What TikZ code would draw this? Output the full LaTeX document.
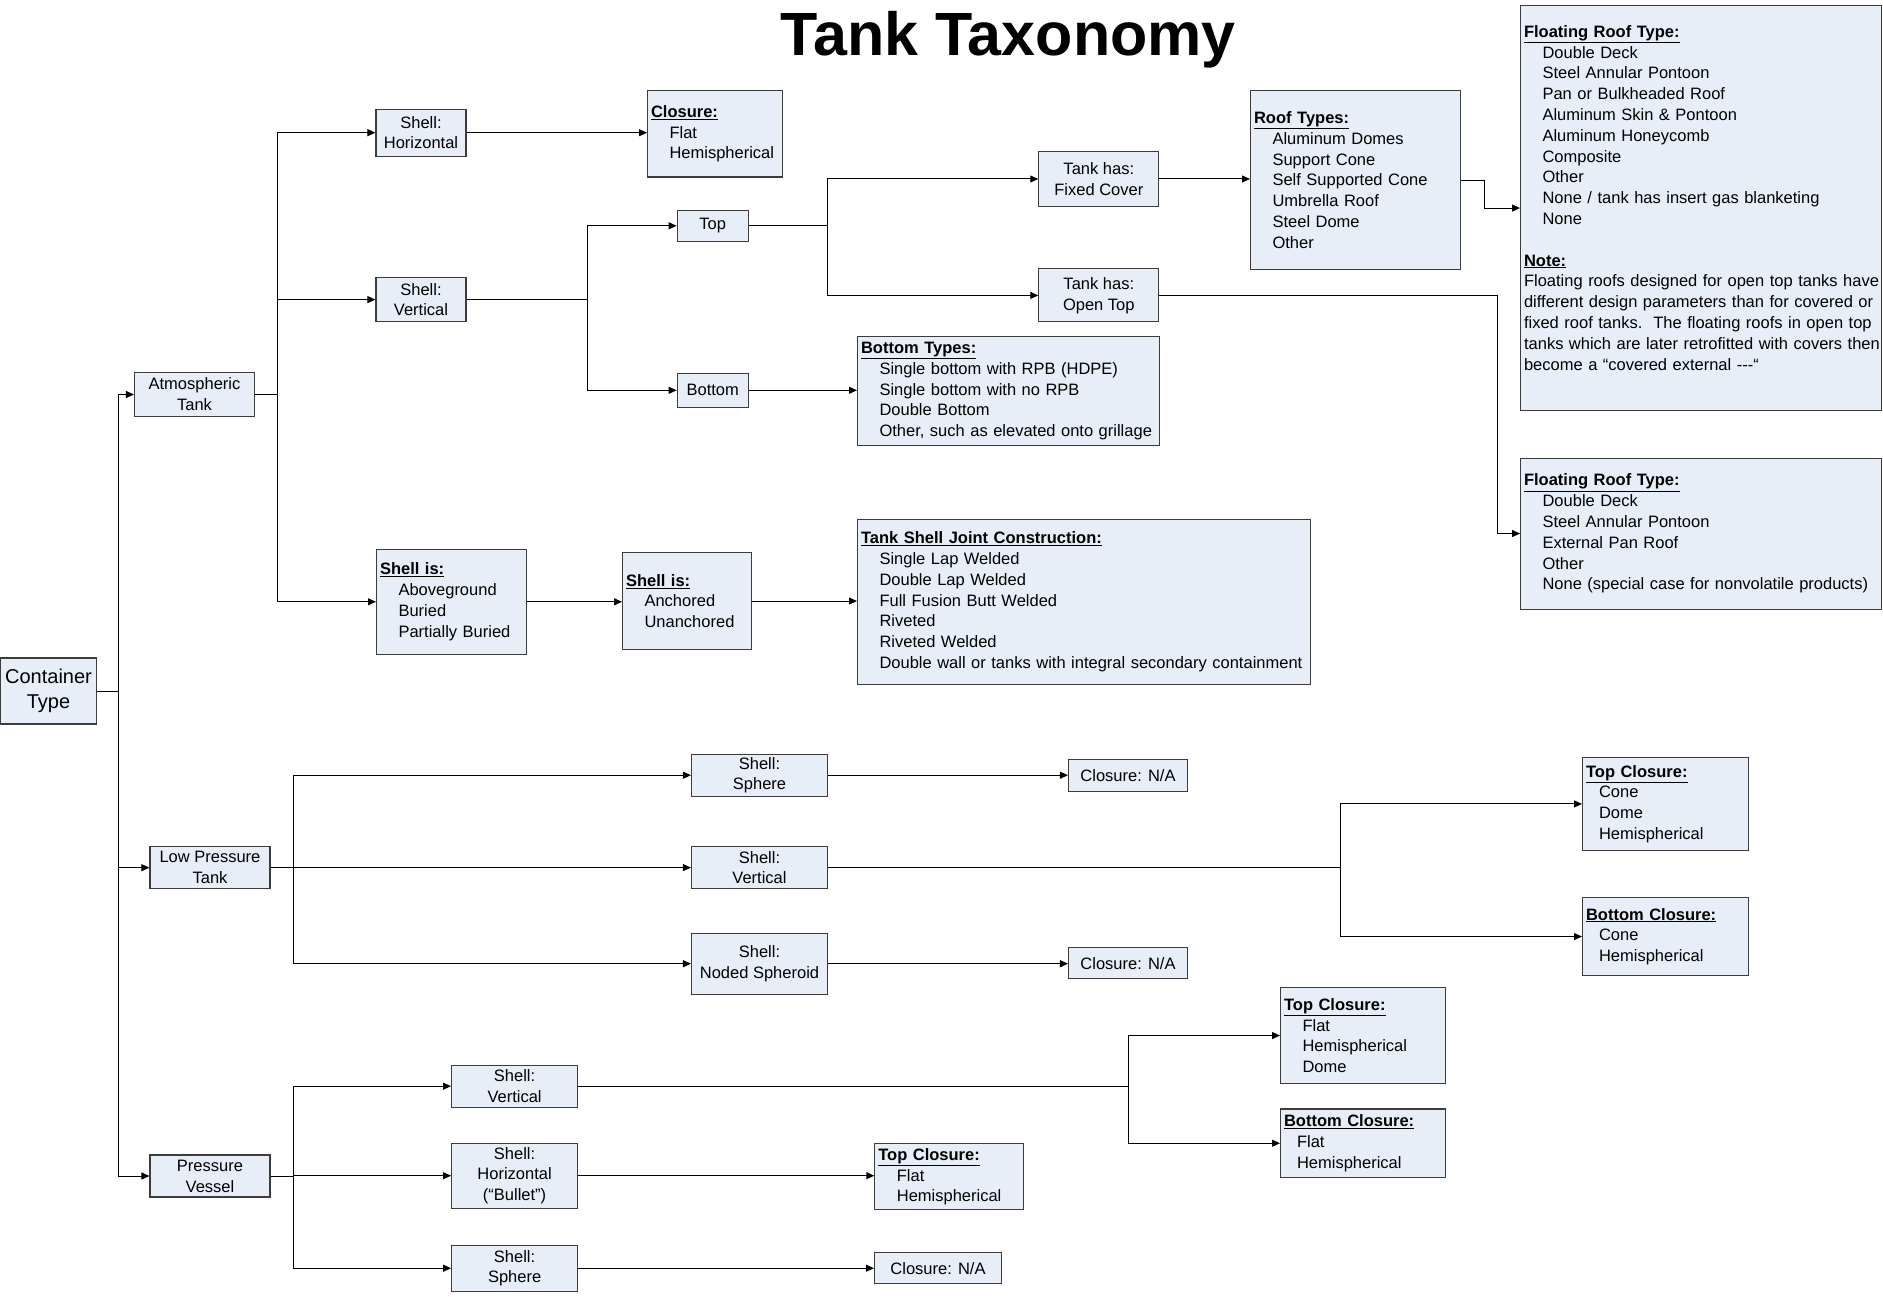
\documentclass[tikz,border=0pt]{standalone}
\usepackage{fontspec}
\setmainfont{Liberation Sans}
\usetikzlibrary{arrows.meta,positioning,calc}
\definecolor{boxfill}{RGB}{232,238,248}
\definecolor{boxline}{RGB}{60,60,60}
\newcommand{\boxhead}[1]{\mbox{\textbf{\underline{#1}}}}
\newcommand{\boxitem}[2][18.5pt]{\hspace*{#1}\mbox{#2}}

\begin{document}
\begin{tikzpicture}[
  x=1pt,y=-1pt,
  box/.style={draw=boxline,fill=boxfill,line width=1.1pt,align=center,inner sep=2pt,
    font=\fontsize{16.5}{20.8}\selectfont},
  listbox/.style={box,anchor=north west,align=left,inner xsep=3.5pt},
  arr/.style={-{Triangle[length=8pt,width=7pt]},line width=1pt,draw=black}
]
\useasboundingbox (0,0) rectangle (1883,1297);
\node[font=\fontsize{61}{72}\selectfont\bfseries,anchor=base] (title) at (1008,56) {Tank Taxonomy};

% level 0 and 1
\node[box,minimum width=96pt,minimum height=66pt,font=\fontsize{20}{25}\selectfont] (ctype) at (48.5,691) {Container\\Type};
\node[box,minimum width=120pt,minimum height=44pt] (atm) at (194.5,394.5) {Atmospheric\\Tank};
\node[box,minimum width=120pt,minimum height=42pt] (lpt) at (210,867.7) {Low Pressure\\Tank};
\node[box,minimum width=120pt,minimum height=42pt] (pv) at (210,1176) {Pressure\\Vessel};

% atmospheric tank
\node[box,minimum width=90pt,minimum height=47pt] (shhor) at (421,132.7) {Shell:\\Horizontal};
\node[listbox,text width=128pt,minimum height=86.5pt] (clos) at (647,90)
  {\boxhead{Closure:}\\\boxitem{Flat}\\\boxitem{Hemispherical}};
\node[box,minimum width=90pt,minimum height=44pt] (shver) at (421,299.6) {Shell:\\Vertical};
\node[box,minimum width=71pt,minimum height=31pt] (top) at (712.7,225.8) {Top};
\node[box,minimum width=71pt,minimum height=34pt] (bot) at (712.7,390.3) {Bottom};
\node[box,minimum width=120pt,minimum height=55pt] (fixed) at (1098.8,179) {Tank has:\\Fixed Cover};
\node[box,minimum width=120pt,minimum height=53pt] (open) at (1098.8,295.4) {Tank has:\\Open Top};
\node[listbox,text width=203pt,minimum height=179pt] (roof) at (1250,90)
  {\boxhead{Roof Types:}\\\boxitem{Aluminum Domes}\\\boxitem{Support Cone}\\
   \boxitem{Self Supported Cone}\\\boxitem{Umbrella Roof}\\\boxitem{Steel Dome}\\\boxitem{Other}};
\node[listbox,text width=354pt,minimum height=405pt] (float) at (1520,5)
  {\boxhead{Floating Roof Type:}\\\boxitem{Double Deck}\\\boxitem{Steel Annular Pontoon}\\
   \boxitem{Pan or Bulkheaded Roof}\\\boxitem{Aluminum Skin \& Pontoon}\\\boxitem{Aluminum Honeycomb}\\
   \boxitem{Composite}\\\boxitem{Other}\\\boxitem{None / tank has insert gas blanketing}\\\boxitem{None}\\[20.8pt]
   \boxhead{Note:}\\
   \mbox{Floating roofs designed for open top tanks have}\\
   \mbox{different design parameters than for covered or}\\
   \mbox{fixed roof tanks.\ \ The floating roofs in open top}\\
   \mbox{tanks which are later retrofitted with covers then}\\
   \mbox{become a “covered external -{}-{}-“}\\ \mbox{}};
\node[listbox,text width=354pt,minimum height=151pt] (floatb) at (1520,457.5)
  {\boxhead{Floating Roof Type:}\\\boxitem{Double Deck}\\\boxitem{Steel Annular Pontoon}\\
   \boxitem{External Pan Roof}\\\boxitem{Other}\\\boxitem{None (special case for nonvolatile products)}};
\node[listbox,text width=294.5pt,minimum height=109pt] (bottypes) at (857,336)
  {\boxhead{Bottom Types:}\\\boxitem{Single bottom with RPB (HDPE)}\\\boxitem{Single bottom with no RPB}\\
   \boxitem{Double Bottom}\\\boxitem{Other, such as elevated onto grillage}};
\node[listbox,text width=143pt,minimum height=104.5pt] (shellis) at (376,549)
  {\boxhead{Shell is:}\\\boxitem{Aboveground}\\\boxitem{Buried}\\\boxitem{Partially Buried}};
\node[listbox,text width=121.6pt,minimum height=97pt] (anch) at (622,552)
  {\boxhead{Shell is:}\\\boxitem{Anchored}\\\boxitem{Unanchored}};
\node[listbox,text width=446pt,minimum height=164.5pt] (joint) at (857,519)
  {\boxhead{Tank Shell Joint Construction:}\\\boxitem{Single Lap Welded}\\\boxitem{Double Lap Welded}\\
   \boxitem{Full Fusion Butt Welded}\\\boxitem{Riveted}\\\boxitem{Riveted Welded}\\
   \boxitem{Double wall or tanks with integral secondary containment}};

% low pressure tank
\node[box,minimum width=136pt,minimum height=42pt] (lpsph) at (759.5,775.2) {Shell:\\Sphere};
\node[box,minimum width=119pt,minimum height=32pt] (lpna) at (1128,775.2) {Closure: N/A};
\node[box,minimum width=136pt,minimum height=42pt] (lpver) at (759.5,867.6) {Shell:\\Vertical};
\node[listbox,text width=158.7pt,minimum height=93.6pt] (lptop) at (1582,756.6)
  {\boxhead{Top Closure:}\\\boxitem[13pt]{Cone}\\\boxitem[13pt]{Dome}\\\boxitem[13pt]{Hemispherical}};
\node[listbox,text width=158.7pt,minimum height=78pt] (lpbot) at (1582,897)
  {\boxhead{Bottom Closure:}\\\boxitem[13pt]{Cone}\\\boxitem[13pt]{Hemispherical}};
\node[box,minimum width=136pt,minimum height=61pt] (lpnod) at (759.5,963.7) {Shell:\\Noded Spheroid};
\node[box,minimum width=119pt,minimum height=31pt] (lpna2) at (1128,963.1) {Closure: N/A};

% pressure vessel
\node[box,minimum width=126pt,minimum height=42pt] (pvver) at (514.6,1086.2) {Shell:\\Vertical};
\node[listbox,text width=157.5pt,minimum height=96pt] (pvtop) at (1280,987)
  {\boxhead{Top Closure:}\\\boxitem{Flat}\\\boxitem{Hemispherical}\\\boxitem{Dome}};
\node[listbox,text width=157.5pt,minimum height=68.5pt] (pvbot) at (1280,1108.4)
  {\boxhead{Bottom Closure:}\\\boxitem[13pt]{Flat}\\\boxitem[13pt]{Hemispherical}};
\node[box,minimum width=126pt,minimum height=65pt] (pvbul) at (514.6,1175.7) {Shell:\\Horizontal\\(“Bullet”)};
\node[listbox,text width=142pt,minimum height=66pt] (pvtop2) at (874.3,1143.3)
  {\boxhead{Top Closure:}\\\boxitem{Flat}\\\boxitem{Hemispherical}};
\node[box,minimum width=126pt,minimum height=45.7pt] (pvsph) at (514.6,1268.2) {Shell:\\Sphere};
\node[box,minimum width=127pt,minimum height=31pt] (pvna) at (938,1268.2) {Closure: N/A};

% branch points
\coordinate (t0) at (118.9,0);
\coordinate (t1) at (277.4,0);
\coordinate (t2) at (587.2,0);
\coordinate (t3) at (827.4,0);
\coordinate (t5) at (1484.3,0);
\coordinate (t6) at (1497.5,0);
\coordinate (t7) at (293,0);
\coordinate (t8) at (1340.2,0);
\coordinate (t9) at (1128.8,0);

\foreach \dst in {atm,lpt,pv}
  \draw[arr] (ctype.east) -| (t0 |- \dst.west) -- (\dst.west);
\foreach \dst in {shhor,shver,shellis}
  \draw[arr] (atm.east) -| (t1 |- \dst.west) -- (\dst.west);
\foreach \dst in {top,bot}
  \draw[arr] (shver.east) -| (t2 |- \dst.west) -- (\dst.west);
\foreach \dst in {fixed,open}
  \draw[arr] (top.east) -| (t3 |- \dst.west) -- (\dst.west);
\draw[arr] (roof.east) -| (t5 |- float.west) -- (float.west);
\draw[arr] (open.east) -| (t6 |- floatb.west) -- (floatb.west);
\foreach \dst in {lpsph,lpver,lpnod}
  \draw[arr] (lpt.east) -| (t7 |- \dst.west) -- (\dst.west);
\foreach \dst in {lptop,lpbot}
  \draw[arr] (lpver.east) -| (t8 |- \dst.west) -- (\dst.west);
\foreach \dst in {pvver,pvbul,pvsph}
  \draw[arr] (pv.east) -| (t7 |- \dst.west) -- (\dst.west);
\foreach \dst in {pvtop,pvbot}
  \draw[arr] (pvver.east) -| (t9 |- \dst.west) -- (\dst.west);

\draw[arr] (shhor.east) -- (shhor.east -| clos.west);
\draw[arr] (fixed.east) -- (fixed.east -| roof.west);
\draw[arr] (bot.east) -- (bot.east -| bottypes.west);
\draw[arr] (shellis.east) -- (shellis.east -| anch.west);
\draw[arr] (anch.east) -- (anch.east -| joint.west);
\draw[arr] (lpsph.east) -- (lpsph.east -| lpna.west);
\draw[arr] (lpnod.east) -- (lpnod.east -| lpna2.west);
\draw[arr] (pvbul.east) -- (pvbul.east -| pvtop2.west);
\draw[arr] (pvsph.east) -- (pvsph.east -| pvna.west);
\end{tikzpicture}
\end{document}
